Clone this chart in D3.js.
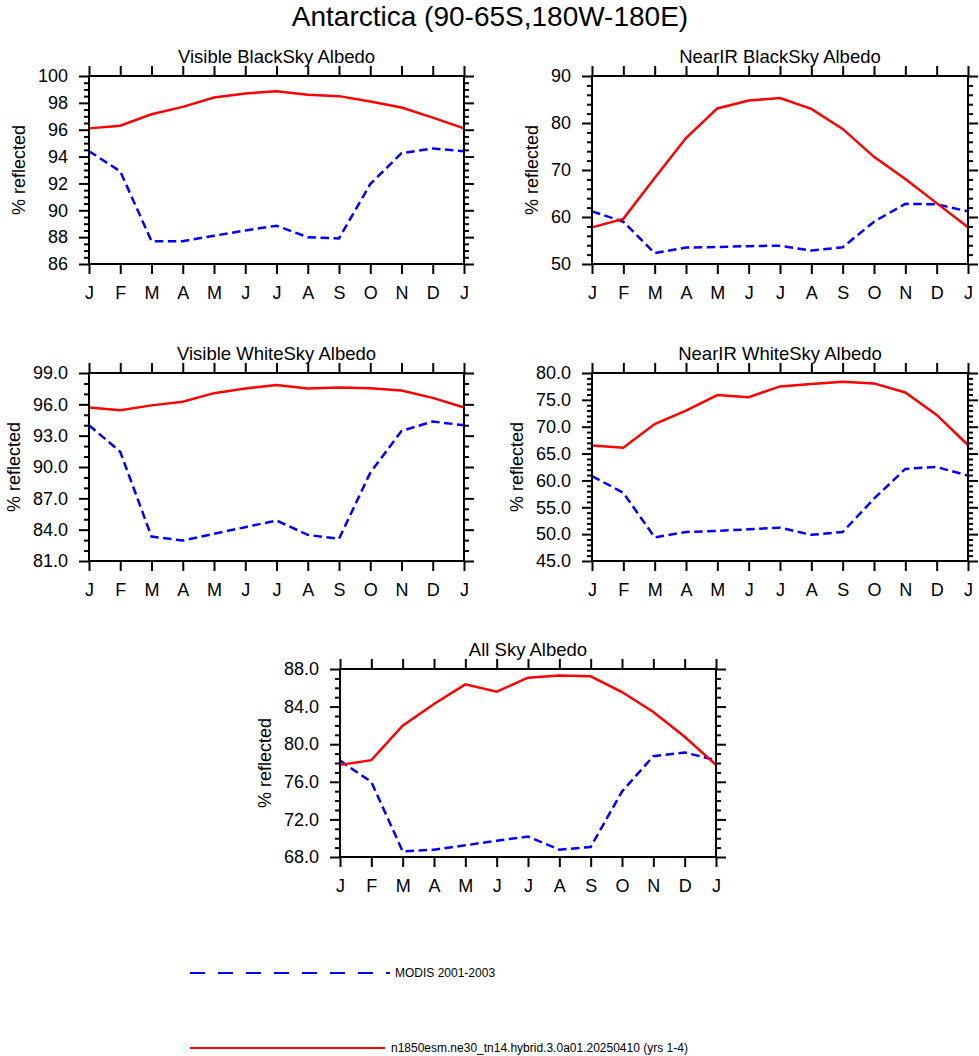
<!DOCTYPE html>
<html><head><meta charset="utf-8">
<script src="https://cdn.jsdelivr.net/npm/d3@7"></script>
<style>
body{margin:0;background:#fff}
text{font-family:"Liberation Sans",Arial,Helvetica,sans-serif;fill:#000}
</style>
</head><body>
<svg id="c" width="979" height="1056"></svg>
<script>
// ---------------- data ----------------
const months = ["J","F","M","A","M","J","J","A","S","O","N","D","J"];
const mainTitle = "Antarctica (90-65S,180W-180E)";
const panelTitles = ["Visible BlackSky Albedo","NearIR BlackSky Albedo","Visible WhiteSky Albedo","NearIR WhiteSky Albedo","All Sky Albedo"];
const yLabel = "% reflected";
const legendLabels = ["MODIS 2001-2003","n1850esm.ne30_tn14.hybrid.3.0a01.20250410 (yrs 1-4)"];

const visBlackModis = [94.4,92.9,87.7,87.7,88.1,88.5,88.85,88.0,87.9,91.95,94.25,94.6,94.4];
const visBlackModel = [96.1,96.3,97.15,97.7,98.4,98.7,98.87,98.6,98.5,98.1,97.65,96.9,96.1];
const nirBlackModis = [61.2,59.0,52.3,53.5,53.6,53.8,53.9,52.85,53.55,59.0,62.8,62.7,61.2];
const nirBlackModel = [57.8,59.6,68.3,76.8,83.1,84.8,85.3,83.0,78.75,72.8,68.1,62.95,57.8];
const visWhiteModis = [94.0,91.46,83.34,82.96,83.6,84.24,84.88,83.5,83.12,89.44,93.45,94.35,94.0];
const visWhiteModel = [95.7,95.44,95.9,96.24,97.07,97.52,97.84,97.52,97.62,97.55,97.33,96.62,95.7];
const nirWhiteModis = [60.8,57.7,49.4,50.4,50.6,50.9,51.2,49.87,50.4,56.6,62.15,62.5,60.9];
const nirWhiteModel = [66.5,66.1,70.5,73.0,75.9,75.5,77.5,77.94,78.37,78.06,76.38,72.2,66.6];
const allSkyModis = [78.25,75.99,68.6,68.78,69.24,69.74,70.17,68.78,69.07,74.96,78.73,79.12,78.3];
const allSkyModel = [77.8,78.3,81.96,84.27,86.37,85.58,87.08,87.32,87.22,85.55,83.42,80.79,77.8];

const visBlackTicks = [86,88,90,92,94,96,98,100];
const nirBlackTicks = [50,60,70,80,90];
const visWhiteTicks = [81,84,87,90,93,96,99];
const nirWhiteTicks = [45,50,55,60,65,70,75,80];
const allSkyTicks = [68,72,76,80,84,88];
const minorSteps = [0.5,2,1,1,1];
const tickDecimals = [0,0,1,1,1];

// ---------------- layout ----------------
const boxes = [
  [89,76,464,264],
  [592,76,968,264],
  [89,373,464,561],
  [592,373,968,561],
  [340,669,716,857]
];
const modisSeries = [visBlackModis,nirBlackModis,visWhiteModis,nirWhiteModis,allSkyModis];
const modelSeries = [visBlackModel,nirBlackModel,visWhiteModel,nirWhiteModel,allSkyModel];
const tickSets = [visBlackTicks,nirBlackTicks,visWhiteTicks,nirWhiteTicks,allSkyTicks];

const BLUE = "#0000ff", RED = "#ff0000";
const svg = d3.select("#c");
svg.append("rect").attr("width",979).attr("height",1056).attr("fill","#fff");

svg.append("text").attr("x",490).attr("y",26).attr("text-anchor","middle")
  .style("font-size","28px").text(mainTitle);

function styleAxis(g){
  g.select(".domain").remove();
  g.selectAll(".tick line").attr("stroke","#000").attr("stroke-width",2);
  g.selectAll(".tick text").style("font-size","18px")
    .style("font-family","'Liberation Sans',Arial,Helvetica,sans-serif").attr("fill","#000");
  g.attr("font-size",null).attr("font-family",null);
}

boxes.forEach((b,i)=>{
  const [L,T,R,B] = b;
  const ticks = tickSets[i];
  const x = d3.scaleLinear().domain([0,12]).range([L,R]);
  const y = d3.scaleLinear().domain([ticks[0],ticks[ticks.length-1]]).range([B,T]);
  const minor = d3.range(ticks[0], ticks[ticks.length-1]+1e-9, minorSteps[i])
      .filter(v=>!ticks.some(t=>Math.abs(t-v)<1e-9));
  const fmt = d3.format("."+tickDecimals[i]+"f");
  const g = svg.append("g");
  const idx = d3.range(months.length);

  const gb = g.append("g").attr("transform",`translate(0,${B})`)
    .call(d3.axisBottom(x).tickValues(idx).tickFormat(k=>months[k]).tickSize(10).tickPadding(12).tickSizeOuter(0));
  styleAxis(gb);
  const gt = g.append("g").attr("transform",`translate(0,${T})`)
    .call(d3.axisTop(x).tickValues(idx).tickFormat("").tickSize(10).tickSizeOuter(0));
  styleAxis(gt);
  const gl = g.append("g").attr("transform",`translate(${L},0)`)
    .call(d3.axisLeft(y).tickValues(ticks).tickFormat(fmt).tickSize(10).tickPadding(11).tickSizeOuter(0));
  styleAxis(gl);
  const glm = g.append("g").attr("transform",`translate(${L},0)`)
    .call(d3.axisLeft(y).tickValues(minor).tickFormat("").tickSize(5).tickSizeOuter(0));
  styleAxis(glm);
  const gr = g.append("g").attr("transform",`translate(${R},0)`)
    .call(d3.axisRight(y).tickValues(ticks).tickFormat("").tickSize(10).tickSizeOuter(0));
  styleAxis(gr);
  const grm = g.append("g").attr("transform",`translate(${R},0)`)
    .call(d3.axisRight(y).tickValues(minor).tickFormat("").tickSize(5).tickSizeOuter(0));
  styleAxis(grm);

  const line = d3.line().x((d,k)=>x(k)).y(d=>y(d));
  g.append("path").datum(modisSeries[i]).attr("d",line).attr("fill","none")
    .attr("stroke",BLUE).attr("stroke-width",2.5).attr("stroke-dasharray","8.5,4.5");
  g.append("path").datum(modelSeries[i]).attr("d",line).attr("fill","none")
    .attr("stroke",RED).attr("stroke-width",2.5);

  g.append("rect").attr("x",L).attr("y",T).attr("width",R-L).attr("height",B-T)
    .attr("fill","none").attr("stroke","#000").attr("stroke-width",2);

  g.append("text").attr("x",(L+R)/2).attr("y",T-13).attr("text-anchor","middle")
    .style("font-size","18.5px").text(panelTitles[i]);

  let minX = Infinity;
  gl.selectAll(".tick text").each(function(){ const bb=this.getBBox(); minX=Math.min(minX, L + bb.x); });
  const cx = minX - 19;
  g.append("text").attr("transform",`translate(${cx},${(T+B)/2}) rotate(-90)`)
    .attr("text-anchor","middle").attr("dy","0.36em").style("font-size","18px").text(yLabel);
});

// legend
const lx = d3.scaleLinear().domain([0,1]).range([190,390]);
svg.append("line").attr("x1",lx(0)).attr("x2",lx(1)).attr("y1",973).attr("y2",973)
  .attr("stroke",BLUE).attr("stroke-width",2).attr("stroke-dasharray","15,13");
svg.append("text").attr("x",395).attr("y",973).attr("dy","0.35em").style("font-size","12px").text(legendLabels[0]);
svg.append("line").attr("x1",lx(0)).attr("x2",385).attr("y1",1048).attr("y2",1048)
  .attr("stroke",RED).attr("stroke-width",2);
svg.append("text").attr("x",391).attr("y",1048).attr("dy","0.35em").style("font-size","12px").text(legendLabels[1]);
</script>
</body></html>
